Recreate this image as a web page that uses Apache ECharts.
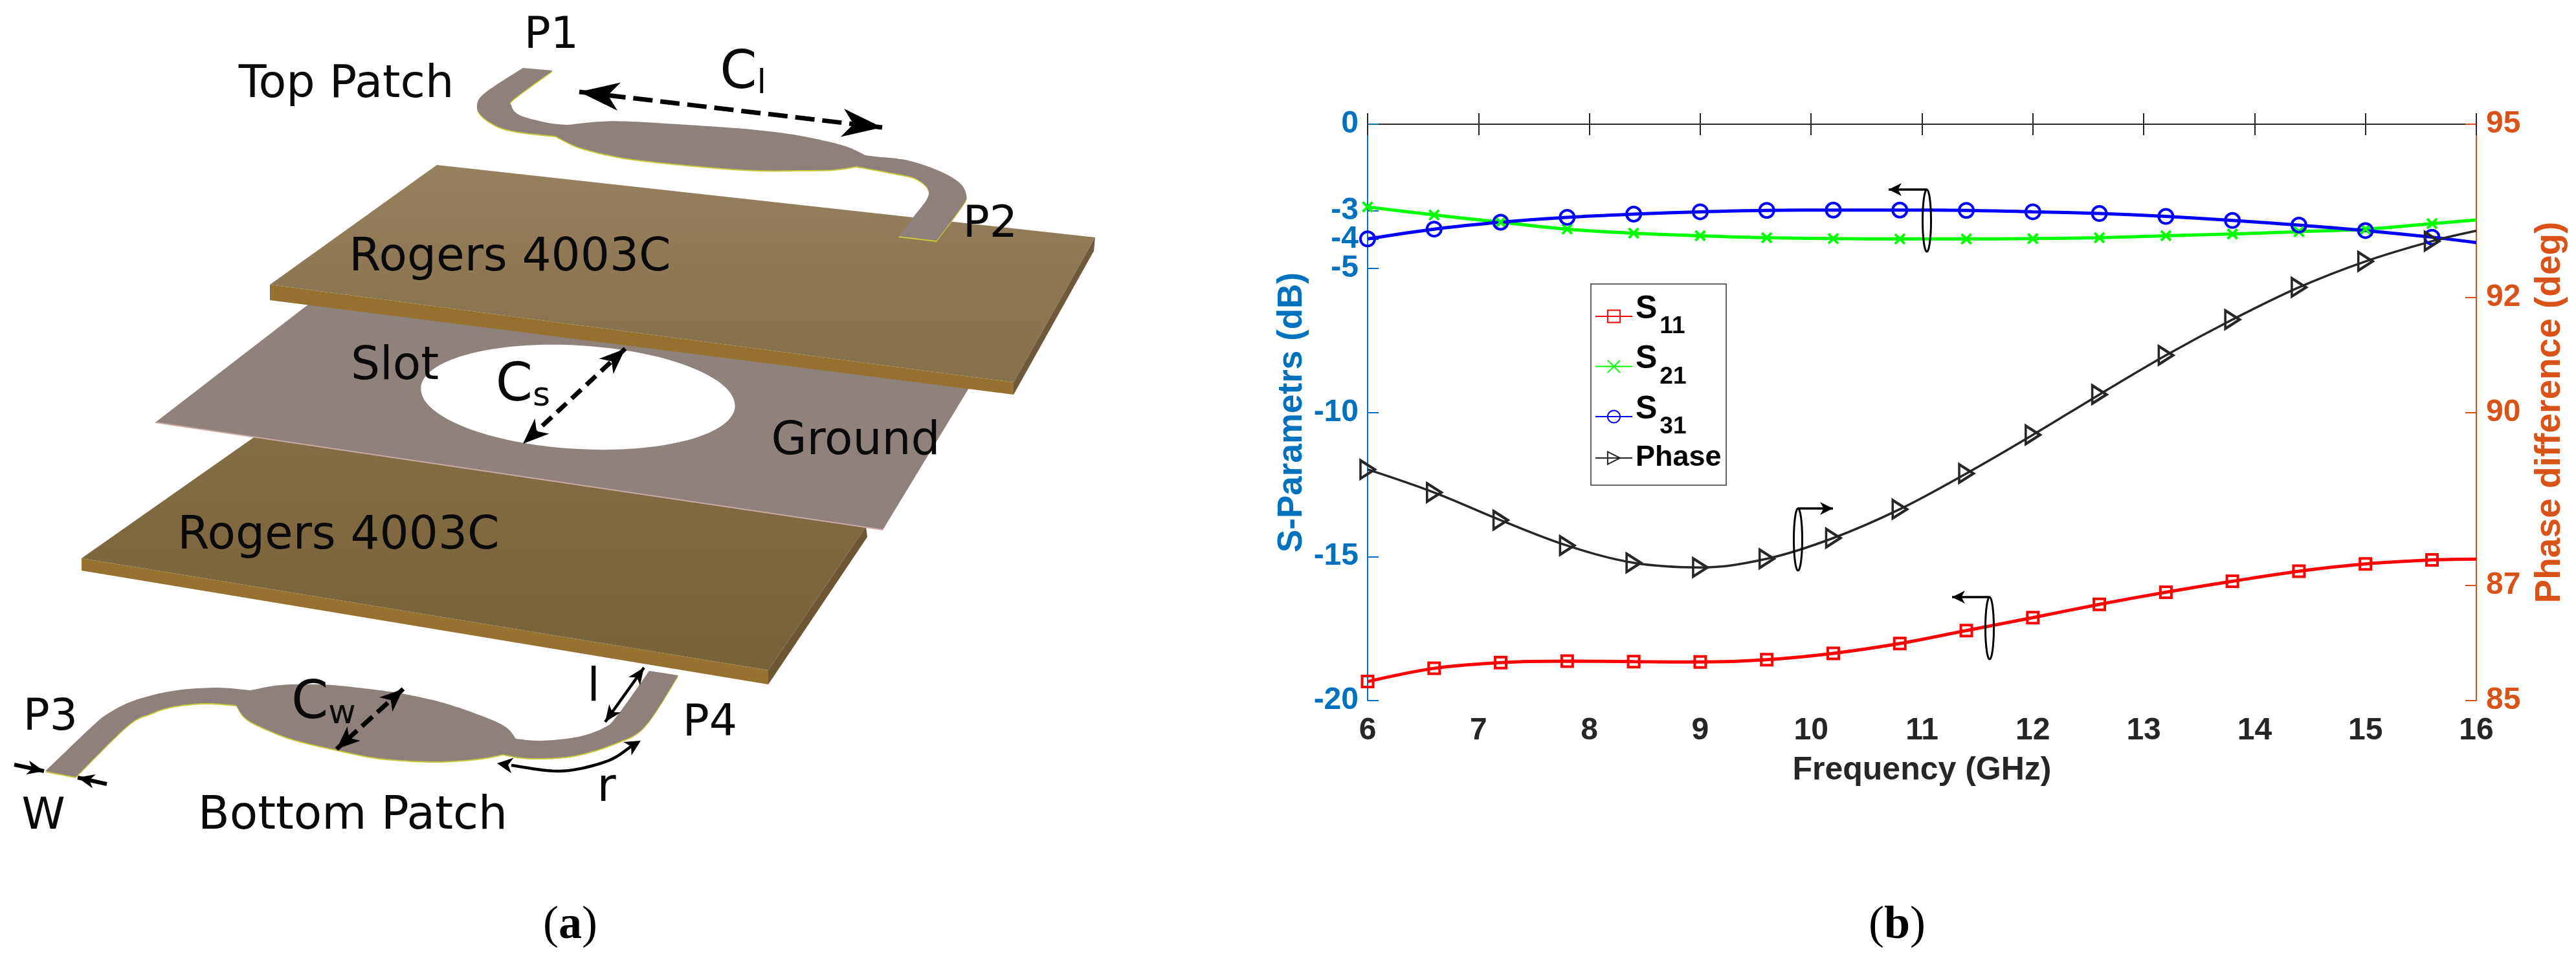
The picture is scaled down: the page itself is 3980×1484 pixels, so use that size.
<!DOCTYPE html>
<html>
  <head>
    <meta charset="utf-8" />
    <title>Coupler S-parameters</title>
    <script src="https://cdn.jsdelivr.net/npm/echarts@6/dist/echarts.min.js"></script>
    <style>
      html, body { margin: 0; padding: 0; background: #fff; }
    </style>
  </head>
  <body>
    <div id="main" style="width:3980px;height:1484px;"></div>
    <script type="text/javascript">
      // values, last point (16 GHz) has no marker
      var freq = [6, 6.6, 7.2, 7.8, 8.4, 9, 9.6, 10.2, 10.8, 11.4, 12, 12.6, 13.2, 13.8, 14.4, 15, 15.6, 16];
      var s11 = [-19.34, -18.88, -18.68, -18.63, -18.65, -18.66, -18.58, -18.36, -18.02, -17.57, -17.12, -16.66, -16.24, -15.86, -15.51, -15.26, -15.12, -15.09];
      var s21 = [-2.87, -3.15, -3.40, -3.64, -3.78, -3.87, -3.94, -3.97, -3.98, -3.98, -3.97, -3.94, -3.87, -3.81, -3.73, -3.64, -3.45, -3.32];
      var s31 = [-3.98, -3.64, -3.40, -3.23, -3.12, -3.04, -2.99, -2.98, -2.98, -2.99, -3.04, -3.10, -3.20, -3.34, -3.50, -3.69, -3.92, -4.11];
      var phase = [89.01, 88.61, 88.13, 87.69, 87.39, 87.31, 87.46, 87.82, 88.32, 88.94, 89.61, 90.31, 90.99, 91.61, 92.17, 92.62, 92.97, 93.15];

      var xTicks = [6, 7, 8, 9, 10, 11, 12, 13, 14, 15, 16];
      var leftTicks = [-20, -15, -10, -5, -4, -3, 0];
      var rightTicks = [85, 87, 90, 92, 95];

      var BLUE = '#0072bd', ORANGE = '#d95319', DARK = '#262626';
      var SANS = '"Liberation Sans"', DEJA = '"DejaVu Sans"', SERIF = '"Liberation Serif"';

      function points(values, symbol) {
        return values.map(function (v, i) {
          return { value: [freq[i], v], symbol: i === values.length - 1 ? 'none' : symbol };
        });
      }

      function lineSeries(name, values, color, width, symbol, size, yIndex) {
        return {
          name: name,
          type: 'line',
          yAxisIndex: yIndex,
          data: points(values, symbol),
          symbol: symbol,
          symbolSize: size,
          showAllSymbol: true,
          smooth: 0.35,
          clip: false,
          lineStyle: { color: color, width: width },
          itemStyle: { color: 'transparent', borderColor: color, borderWidth: 4 }
        };
      }

      // ---- helpers for the drawing on the left ----
      function spline(sections) {
        // each section is a list of points joined by a smooth curve, sections meet at corners
        var out = [];
        sections.forEach(function (p) {
          for (var i = 0; i < p.length - 1; i++) {
            var p0 = p[Math.max(i - 1, 0)], p1 = p[i], p2 = p[i + 1], p3 = p[Math.min(i + 2, p.length - 1)];
            for (var k = 0; k <= 12; k++) {
              var t = k / 12, t2 = t * t, t3 = t2 * t;
              out.push([0, 1].map(function (c) {
                return 0.5 * (2 * p1[c] + (p2[c] - p0[c]) * t + (2 * p0[c] - 5 * p1[c] + 4 * p2[c] - p3[c]) * t2 +
                  (3 * p1[c] - p0[c] - 3 * p2[c] + p3[c]) * t3);
              }));
            }
          }
        });
        return out;
      }

      function head(tipX, tipY, fromX, fromY, len, wide) {
        var dx = fromX - tipX, dy = fromY - tipY, n = Math.sqrt(dx * dx + dy * dy);
        dx /= n; dy /= n;
        var bx = tipX + dx * len, by = tipY + dy * len;
        var nx = tipX + dx * len * 0.72, ny = tipY + dy * len * 0.72;
        return {
          type: 'polygon', z: 20,
          shape: { points: [[tipX, tipY], [bx - dy * wide, by + dx * wide], [nx, ny], [bx + dy * wide, by - dx * wide]] },
          style: { fill: '#000' }
        };
      }

      function arrow(x1, y1, x2, y2, width, len, wide, dash, oneEnd) {
        var list = [{
          type: 'line', z: 20,
          shape: { x1: x1, y1: y1, x2: x2, y2: y2 },
          style: { stroke: '#000', lineWidth: width, lineDash: dash || null, fill: null }
        }, head(x2, y2, x1, y1, len, wide)];
        if (!oneEnd) list.push(head(x1, y1, x2, y2, len, wide));
        return list;
      }

      function label(text, x, y, size) {
        return {
          type: 'text', z: 20, x: x, y: y,
          style: { text: text, font: size + 'px ' + DEJA, fill: '#0a0a0a', align: 'center', verticalAlign: 'middle' }
        };
      }

      function capLabel(big, small, x, y) {
        return {
          type: 'text', z: 20, x: x, y: y,
          style: {
            text: '{c|' + big + '}{s|' + small + '}', align: 'center', verticalAlign: 'middle',
            rich: {
              c: { font: '82px ' + DEJA, fill: '#0a0a0a', verticalAlign: 'bottom' },
              s: { font: '52px ' + DEJA, fill: '#0a0a0a', verticalAlign: 'bottom' }
            }
          }
        };
      }

      function caption(letter, x, y) {
        return {
          type: 'text', x: x, y: y,
          style: {
            text: '{p|(}{l|' + letter + '}{p|)}', align: 'center', verticalAlign: 'middle',
            rich: {
              p: { font: '72px ' + SERIF, fill: '#000' },
              l: { font: 'bold 72px ' + SERIF, fill: '#000' }
            }
          }
        };
      }

      function poly(pts, fill) {
        return { type: 'polygon', shape: { points: pts }, style: { fill: fill } };
      }

      function grad(a, b) {
        return { type: 'linear', x: 0, y: 0, x2: 0, y2: 1, colorStops: [{ offset: 0, color: a }, { offset: 1, color: b }] };
      }

      var topPatch = spline([
        [[808, 105], [750, 143], [737, 163], [745, 180], [773, 197], [810, 205], [858, 210]],
        [[858, 210], [893, 227], [943, 240], [993, 248], [1093, 258], [1170, 263], [1237, 263], [1287, 262], [1323, 257]],
        [[1323, 257], [1377, 267], [1417, 277], [1435, 300], [1410, 337], [1388, 365]],
        [[1447, 372], [1487, 318], [1493, 302], [1483, 283], [1453, 265], [1403, 248], [1353, 242], [1337, 240]],
        [[1337, 240], [1303, 225], [1237, 210], [1170, 201], [1093, 195], [977, 188], [927, 188], [877, 193]],
        [[877, 193], [847, 190], [803, 178], [790, 163], [795, 152], [854, 109]]
      ]);

      var bottomPatch = spline([
        [[117, 1201], [197, 1122], [233, 1103], [267, 1092], [317, 1087], [365, 1090]],
        [[365, 1090], [377, 1108], [400, 1122], [450, 1142], [520, 1159], [587, 1172], [670, 1177], [737, 1173], [777, 1166]],
        [[777, 1166], [820, 1172], [887, 1168], [953, 1148], [997, 1122], [1048, 1044]],
        [[1003, 1037], [953, 1107], [933, 1125], [893, 1139], [837, 1145], [797, 1142]],
        [[797, 1142], [783, 1125], [753, 1110], [687, 1087], [620, 1072], [553, 1063], [495, 1058], [433, 1059], [387, 1067]],
        [[387, 1067], [333, 1063], [267, 1068], [207, 1083], [167, 1103], [140, 1125], [70, 1192]]
      ]);

      var PATCH = '#8e817c', YELLOW = '#c9c93c';
      var drawing = [
        // bottom board
        poly([[126, 863], [398, 672], [1338, 814], [1187, 1036]], grad('#826d45', '#77623a')),
        poly([[126, 863], [1187, 1036], [1187, 1058], [126, 882]], '#97712f'),
        poly([[1338, 814], [1187, 1036], [1187, 1058], [1340, 830]], '#6b5733'),
        // ground with the slot
        poly([[240, 653], [490, 460], [1500, 595], [1364, 819]], '#8f827c'),
        { type: 'polyline', shape: { points: [[240, 653], [1364, 819]] }, style: { stroke: '#c8a9a2', lineWidth: 2, fill: null } },
        { type: 'ellipse', shape: { cx: 0, cy: 0, rx: 243, ry: 80 }, x: 893, y: 614, rotation: -0.06, style: { fill: '#fff' } },
        // top board
        poly([[675, 255], [1692, 367], [1566, 591], [417, 440]], grad('#96805e', '#85704a')),
        poly([[417, 440], [1566, 591], [1566, 610], [417, 464]], '#97712f'),
        poly([[1692, 367], [1566, 591], [1566, 610], [1690, 388]], '#6e5a3a'),
        // patches, the yellow copy shows as a thin lower rim
        { type: 'polygon', x: 0, y: 2, shape: { points: topPatch }, style: { fill: YELLOW } },
        { type: 'polygon', shape: { points: topPatch }, style: { fill: PATCH } },
        { type: 'polygon', x: 0, y: 2, shape: { points: bottomPatch }, style: { fill: YELLOW } },
        { type: 'polygon', shape: { points: bottomPatch }, style: { fill: PATCH } },
        // r arc
        { type: 'polyline', z: 20, shape: { points: spline([[[790, 1183], [867, 1192], [937, 1177], [975, 1154]]]) }, style: { fill: null, stroke: '#000', lineWidth: 4.5 } },
        head(768, 1180, 810, 1186, 24, 12),
        head(990, 1145, 965, 1160, 24, 12),
        label('P1', 852, 56, 68),
        label('Top Patch', 535, 132, 70),
        label('P2', 1530, 348, 68),
        label('Rogers 4003C', 788, 400, 71),
        label('Slot', 610, 568, 71),
        label('Ground', 1322, 684, 71),
        label('Rogers 4003C', 523, 830, 71),
        label('P3', 78, 1110, 68),
        label('W', 67, 1263, 68),
        label('Bottom Patch', 545, 1263, 71),
        label('l', 917, 1065, 71),
        label('r', 937, 1220, 71),
        label('P4', 1097, 1119, 68),
        capLabel('C', 'l', 1148, 115),
        capLabel('C', 's', 808, 598),
        capLabel('C', 'w', 500, 1089),
        caption('a', 881, 1431),
        caption('b', 2931, 1431),
        // legend frame, the entries are the library's own legend
        { type: 'rect', z: 1, shape: { x: 2458, y: 439, width: 209, height: 311 }, style: { fill: '#fff', stroke: '#333', lineWidth: 1.5 } }
      ]
        .concat(arrow(895, 142, 1363, 197, 7, 62, 22, [30, 12]))
        .concat(arrow(966, 539, 808, 686, 7, 40, 16, [20, 11]))
        .concat(arrow(623, 1065, 520, 1158, 7, 36, 15, [22, 10]))
        .concat(arrow(995, 1032, 935, 1116, 4.5, 26, 11))
        .concat(arrow(22, 1182, 68, 1192, 6, 26, 11, null, true))
        .concat(arrow(165, 1212, 120, 1202, 6, 26, 11, null, true));

      // the little "which axis" markers on the curves
      function marker(cx, cy, tipX) {
        var top = cy - 48;
        return [
          { type: 'ellipse', z: 20, shape: { cx: cx, cy: cy, rx: 6.5, ry: 48 }, style: { fill: null, stroke: '#000', lineWidth: 3 } }
        ].concat(arrow(cx, top, tipX, top, 3.5, 20, 10, null, true));
      }

      var chartAnnotations = marker(2977, 341, 2918)
        .concat(marker(2778, 834, 2832))
        .concat(marker(3074, 971, 3016));

      var myChart = echarts.init(document.getElementById('main'), null, { renderer: 'canvas' });

      var option = {
        animation: false,
        backgroundColor: '#fff',
        textStyle: { fontFamily: SANS },
        grid: { left: 2113, top: 192, width: 1713, height: 891, containLabel: false },
        legend: {
          orient: 'vertical',
          left: 2458,
          top: 439,
          padding: [14, 9, 11, 6],
          itemGap: 7,
          itemWidth: 57,
          itemHeight: 24,
          data: ['S11', 'S21', 'S31', 'Phase'],
          formatter: function (name) {
            // the empty token only sets the height of the Phase row
            if (name === 'Phase') return '{p|Phase}{e| }';
            return '{s|S}{n|' + name.slice(1) + '}';
          },
          textStyle: {
            rich: {
              p: { fontFamily: SANS, fontWeight: 'bold', fontSize: 45, color: '#000' },
              e: { fontFamily: SANS, fontSize: 10, height: 30, lineHeight: 44 },
              s: { fontFamily: SANS, fontWeight: 'bold', fontSize: 50, color: '#000', height: 40, lineHeight: 62, verticalAlign: 'top' },
              n: { fontFamily: SANS, fontWeight: 'bold', fontSize: 37, color: '#000', height: 30, lineHeight: 62, verticalAlign: 'bottom', padding: [0, 0, 0, 4] }
            }
          }
        },
        xAxis: [{
          type: 'value', min: 6, max: 16, interval: 1,
          name: 'Frequency (GHz)', nameLocation: 'middle', nameGap: 83,
          nameTextStyle: { fontFamily: SANS, fontWeight: 'bold', fontSize: 50, color: DARK },
          axisLine: { lineStyle: { color: DARK, width: 2 } },
          axisTick: { inside: true, length: 17, lineStyle: { color: DARK, width: 2 }, customValues: xTicks },
          axisLabel: { fontFamily: SANS, fontWeight: 'bold', fontSize: 48, color: DARK, margin: 23, customValues: xTicks },
          splitLine: { show: false }
        }, {
          type: 'value', min: 6, max: 16, interval: 1, position: 'top',
          axisLine: { lineStyle: { color: DARK, width: 2 } },
          axisTick: { inside: true, length: 17, lineStyle: { color: DARK, width: 2 } },
          axisLabel: { show: false },
          splitLine: { show: false }
        }],
        yAxis: [{
          type: 'value', min: -20, max: 0, position: 'left',
          name: 'S-Parametrs (dB)', nameLocation: 'middle', nameGap: 90,
          nameTextStyle: { fontFamily: SANS, fontWeight: 'bold', fontSize: 53, color: BLUE },
          axisLine: { show: true, lineStyle: { color: BLUE, width: 2 } },
          axisTick: { show: true, inside: true, length: 17, lineStyle: { color: BLUE, width: 2 }, customValues: leftTicks },
          axisLabel: { fontFamily: SANS, fontWeight: 'bold', fontSize: 48, color: BLUE, margin: 14, customValues: leftTicks, showMinLabel: true, showMaxLabel: true },
          splitLine: { show: false }
        }, {
          type: 'value', min: 85, max: 95, position: 'right',
          name: 'Phase difference (deg)', nameLocation: 'middle', nameGap: 86, nameRotate: 90,
          nameTextStyle: { fontFamily: SANS, fontWeight: 'bold', fontSize: 55, color: ORANGE },
          axisLine: { show: true, lineStyle: { color: ORANGE, width: 2 } },
          axisTick: { show: true, inside: true, length: 17, lineStyle: { color: ORANGE, width: 2 }, customValues: rightTicks },
          axisLabel: { fontFamily: SANS, fontWeight: 'bold', fontSize: 48, color: ORANGE, margin: 15, customValues: rightTicks, showMinLabel: true, showMaxLabel: true },
          splitLine: { show: false }
        }],
        series: [
          lineSeries('S11', s11, '#ff0000', 5, 'rect', 17, 0),
          lineSeries('S21', s21, '#00ff00', 5, 'path://M0 0L1 1M0 1L1 0', 15, 0),
          lineSeries('S31', s31, '#0000ff', 5, 'circle', 22, 0),
          lineSeries('Phase', phase, DARK, 3.5, 'path://M0 0L1 0.5L0 1Z', [22, 28], 1)
        ],
        graphic: { elements: drawing.concat(chartAnnotations) }
      };

      myChart.setOption(option);
    </script>
  </body>
</html>
